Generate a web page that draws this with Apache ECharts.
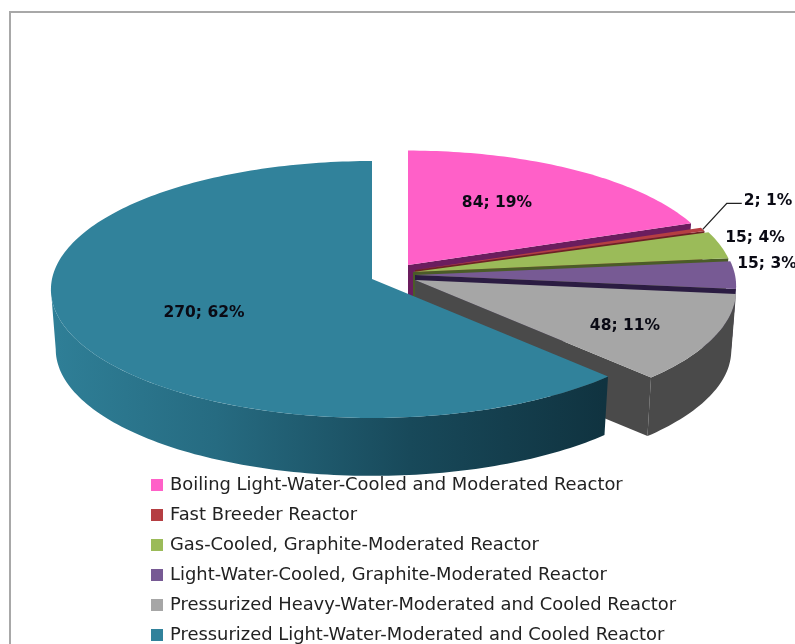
<!DOCTYPE html>
<html><head><meta charset="utf-8">
<style>html,body{margin:0;padding:0;background:#fff}#c{width:795px;height:644px}</style>
<script src="https://cdn.jsdelivr.net/npm/echarts@6/dist/echarts.min.js"></script>
</head><body><div id="c"></div>
<script>
const categories = ['Boiling Light-Water-Cooled and Moderated Reactor','Fast Breeder Reactor','Gas-Cooled, Graphite-Moderated Reactor','Light-Water-Cooled, Graphite-Moderated Reactor','Pressurized Heavy-Water-Moderated and Cooled Reactor','Pressurized Light-Water-Moderated and Cooled Reactor'];
const values = [84, 2, 15, 15, 48, 270];
const percents = [19, 1, 4, 3, 11, 62];

const topColors = ['#ff60c8','#b53e42','#9bbb59','#775a94','#a6a6a6','#31829b'];
const wallColors = ['#6b1d5e','#6e2224','#4b5c28','#2b1c42','#4a4a4a','#103340'];
const explode = [[36,-14,0.97],[43,-9,0.98],[41,-7,1],[43,-4,1],[43,1,1],[0,0,1]];
const labelAt = [[497,203],[768,201],[755,238],[767,264],[625,326],[204,313]];
const pie = {cx:372, cy:279, f:320, g:127.6, k:0.0817, depth:60, bottomScale:0.985};
const total = values.reduce((a,b)=>a+b,0);

function project(i, theta, bottom){
  const e = explode[i], s = e[2]*(bottom?pie.bottomScale:1);
  const X = Math.sin(theta), Y = Math.cos(theta), d = 1 + pie.k*Y;
  return [pie.cx+e[0]+s*pie.f*X/d, pie.cy+e[1]+(bottom?pie.depth:0)-s*pie.g*Y/d];
}
function arc(i,a,b,bottom){
  const n = Math.max(2,Math.ceil(Math.abs(b-a)/0.02)), pts=[];
  for(let j=0;j<=n;j++) pts.push(project(i,a+(b-a)*j/n,bottom));
  return pts;
}
function apex(i,bottom){
  return [pie.cx+explode[i][0], pie.cy+explode[i][1]+(bottom?pie.depth:0)];
}
const tealWall = {type:'linear',x:51,y:0,x2:604,y2:0,global:true,colorStops:[
  {offset:0,color:'#2f7f97'},{offset:0.3,color:'#266b81'},{offset:0.65,color:'#18495a'},{offset:1,color:'#103340'}]};
const silhouette = Math.acos(-pie.k);

function makeRender(i){
  return function(params, api){
    const v = api.value(0);
    let before = 0;
    for(let j=0;j<i;j++) before += values[j];
    const a0 = before/total*2*Math.PI, a1 = (before+v)/total*2*Math.PI;
    const wallFill = i===5 ? tealWall : wallColors[i];
    const top = arc(i,a0,a1,false);
    const children = [];
    // wedge's radial end face
    children.push({type:'polygon',shape:{points:[apex(i,false),project(i,a1,false),project(i,a1,true),apex(i,true)]},style:{fill:wallColors[i]}});
    // outer rim: only the part facing the viewer, bounded by the ellipse's side tangents
    const r0 = Math.max(a0,silhouette), r1 = Math.min(a1,2*Math.PI-silhouette);
    if(r1>r0){
      children.push({type:'polygon',shape:{points:arc(i,r0,r1,false).concat(arc(i,r0,r1,true).reverse())},style:{fill:wallFill}});
    }
    // top face
    children.push({type:'polygon',shape:{points:[apex(i,false)].concat(top)},style:{fill:topColors[i]}});
    if(i===1){
      const o = project(i,(a0+a1)/2,false);
      children.push({type:'polyline',shape:{points:[o,[o[0]+24,o[1]-26],[o[0]+39,o[1]-26]]},style:{stroke:'#222',lineWidth:1.3,fill:null}});
    }
    children.push({type:'text',x:labelAt[i][0],y:labelAt[i][1],style:{text:v+'; '+percents[i]+'%',fill:'#0a0a14',font:'bold 15.5px "DejaVu Sans"',align:'center',verticalAlign:'middle'}});
    return {type:'group',children};
  };
}

const chart = echarts.init(document.getElementById('c'),null,{renderer:'canvas'});
chart.setOption({
  animation:false,
  backgroundColor:'#fff',
  graphic:[{type:'rect',silent:true,shape:{x:10,y:12,width:800,height:650},style:{fill:'none',stroke:'#a8a8a8',lineWidth:2}}],
  legend:{
    orient:'vertical',left:151,top:474,height:220,itemWidth:12,itemHeight:12,itemGap:8,
    icon:'rect',selectedMode:false,padding:0,
    data:categories,
    textStyle:{color:'#222',fontFamily:'"DejaVu Sans"',fontSize:17.9,lineHeight:22,padding:[0,0,0,2]}
  },
  series:categories.map((name,i)=>({
    type:'custom',name,coordinateSystem:'none',silent:true,
    itemStyle:{color:topColors[i]},
    data:[[values[i]]],
    renderItem:makeRender(i)
  }))
});
</script></body></html>
